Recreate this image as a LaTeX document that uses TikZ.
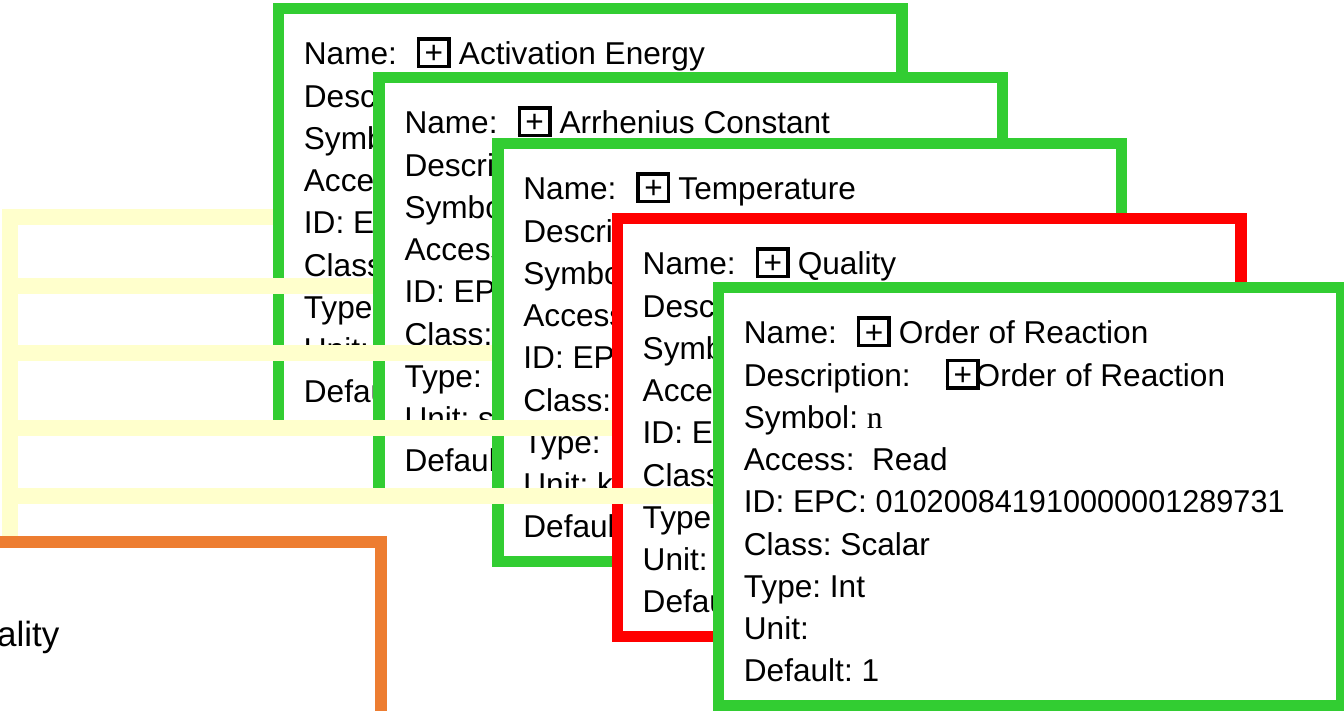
\documentclass[tikz,border=0pt]{standalone}
\usepackage{graphicx}
\usepackage{fontspec}
\setmainfont{Liberation Sans}
\newfontfamily\symserif{Liberation Serif}
\frenchspacing
\definecolor{cardgreen}{HTML}{32CD32}
\definecolor{cardred}{HTML}{FF0000}
\definecolor{feedyellow}{HTML}{FFFFCC}
\definecolor{qualorange}{HTML}{ED7D31}
\newcommand{\plusbox}[1][27pt]{{\setlength{\fboxrule}{3.5pt}\setlength{\fboxsep}{0pt}%
  \fbox{\makebox[#1]{\rule{0pt}{24pt}\raisebox{1pt}{+}}}}}
\tikzset{
  card/.style={draw=cardgreen, fill=white, line width=11.5pt, outer sep=5.75pt,
               minimum width=623.5pt, minimum height=418pt, inner sep=0pt, anchor=north west},
  alertcard/.style={card, draw=cardred},
  fields/.style={anchor=base west, inner sep=0pt, font={\fontsize{31.6}{42.23}\selectfont}},
  feed/.style={draw=feedyellow, line width=15.7pt},
  qualbox/.style={draw=qualorange, fill=white, line width=12.3pt, outer sep=6.15pt,
                  minimum width=752.3pt, minimum height=190.5pt, inner sep=0pt,
                  anchor=north east, font={\fontsize{35}{42}\selectfont}},
}

\begin{document}
\begin{tikzpicture}[x=1pt, y=-1pt]
    \useasboundingbox (0,0) rectangle (1344,711);
    \clip (0,0) rectangle (1344,711);
    % outer corners of the stacked cards
    \coordinate (deck1) at (272.7, 2.7);
    \coordinate (deck2) at (373.3, 71.7);
    \coordinate (deck3) at (492.2, 137.7);
    \coordinate (deck4) at (611.5, 212.7);
    \coordinate (deck5) at (712.7, 281.7);
    \coordinate (qualcorner) at (387.3, 536);
    % yellow trunk and its branches
    \coordinate (trunkfoot) at (10, 580);
    \coordinate (trunk1) at (10, 217);
    \coordinate (trunk2) at (10, 286.2);
    \coordinate (trunk3) at (10, 352.9);
    \coordinate (trunk4) at (10, 427.9);
    \coordinate (trunk5) at (10, 496.3);

    \draw[feed] (trunkfoot) -- (trunk1) -- (trunk1 -| deck1);
    \node[card] (card1) at (deck1) {};
    \node[fields] (fields1) at ([xshift=31pt, yshift=-62.3pt]card1.north west) {%
      \begin{tabular}[t]{@{}l@{}}
        Name:\hspace{20pt}\plusbox\hspace{8pt}Activation Energy\\
        Description:\\ Symbol:\\ Access:\\ ID: EPC:\\ Class:\\ Type:\\ Unit:\\ Default:
      \end{tabular}};

    \draw[feed] (trunk2) -- (trunk2 -| deck2);
    \node[card] (card2) at (deck2) {};
    \node[fields] (fields2) at ([xshift=31pt, yshift=-62.3pt]card2.north west) {%
      \begin{tabular}[t]{@{}l@{}}
        Name:\hspace{20pt}\plusbox\hspace{8pt}Arrhenius Constant\\
        Description:\\ Symbol:\\ Access:\\ ID: EPC:\\ Class:\\ Type:\\ Unit: s\\ Default:
      \end{tabular}};

    \draw[feed] (trunk3) -- (trunk3 -| deck3);
    \node[card] (card3) at (deck3) {};
    \node[fields] (fields3) at ([xshift=31pt, yshift=-62.3pt]card3.north west) {%
      \begin{tabular}[t]{@{}l@{}}
        Name:\hspace{20pt}\plusbox\hspace{8pt}Temperature\\
        Description:\\ Symbol:\\ Access:\\ ID: EPC:\\ Class:\\ Type:\\ Unit: k\\ Default:
      \end{tabular}};

    \draw[feed] (trunk4) -- (trunk4 -| deck4);
    \node[alertcard] (card4) at (deck4) {};
    \node[fields] (fields4) at ([xshift=31pt, yshift=-62.3pt]card4.north west) {%
      \begin{tabular}[t]{@{}l@{}}
        Name:\hspace{20pt}\plusbox\hspace{8pt}Quality\\
        Description:\\ Symbol:\\ Access:\\ ID: EPC:\\ Class:\\ Type:\\ Unit:\\ Default:
      \end{tabular}};

    \draw[feed] (trunk5) -- (trunk5 -| deck5);
    \node[card] (card5) at (deck5) {};
    \node[fields] (fields5) at ([xshift=31pt, yshift=-62.3pt]card5.north west) {%
      \begin{tabular}[t]{@{}l@{}}
        Name:\hspace{20pt}\plusbox\hspace{8pt}Order of Reaction\\
        Description:\hspace{35pt}\plusbox\hspace{-4pt}Order of Reaction\\
        Symbol: {\symserif n}\\
        Access:\ \ Read\\
        ID: EPC: \scalebox{0.97}[1]{010200841910000001289731}\\
        Class: Scalar\\
        Type: Int\\
        Unit:\\
        Default: 1
      \end{tabular}};

    \node[qualbox] (quality) at (qualcorner) {Quality};
\end{tikzpicture}
\end{document}
